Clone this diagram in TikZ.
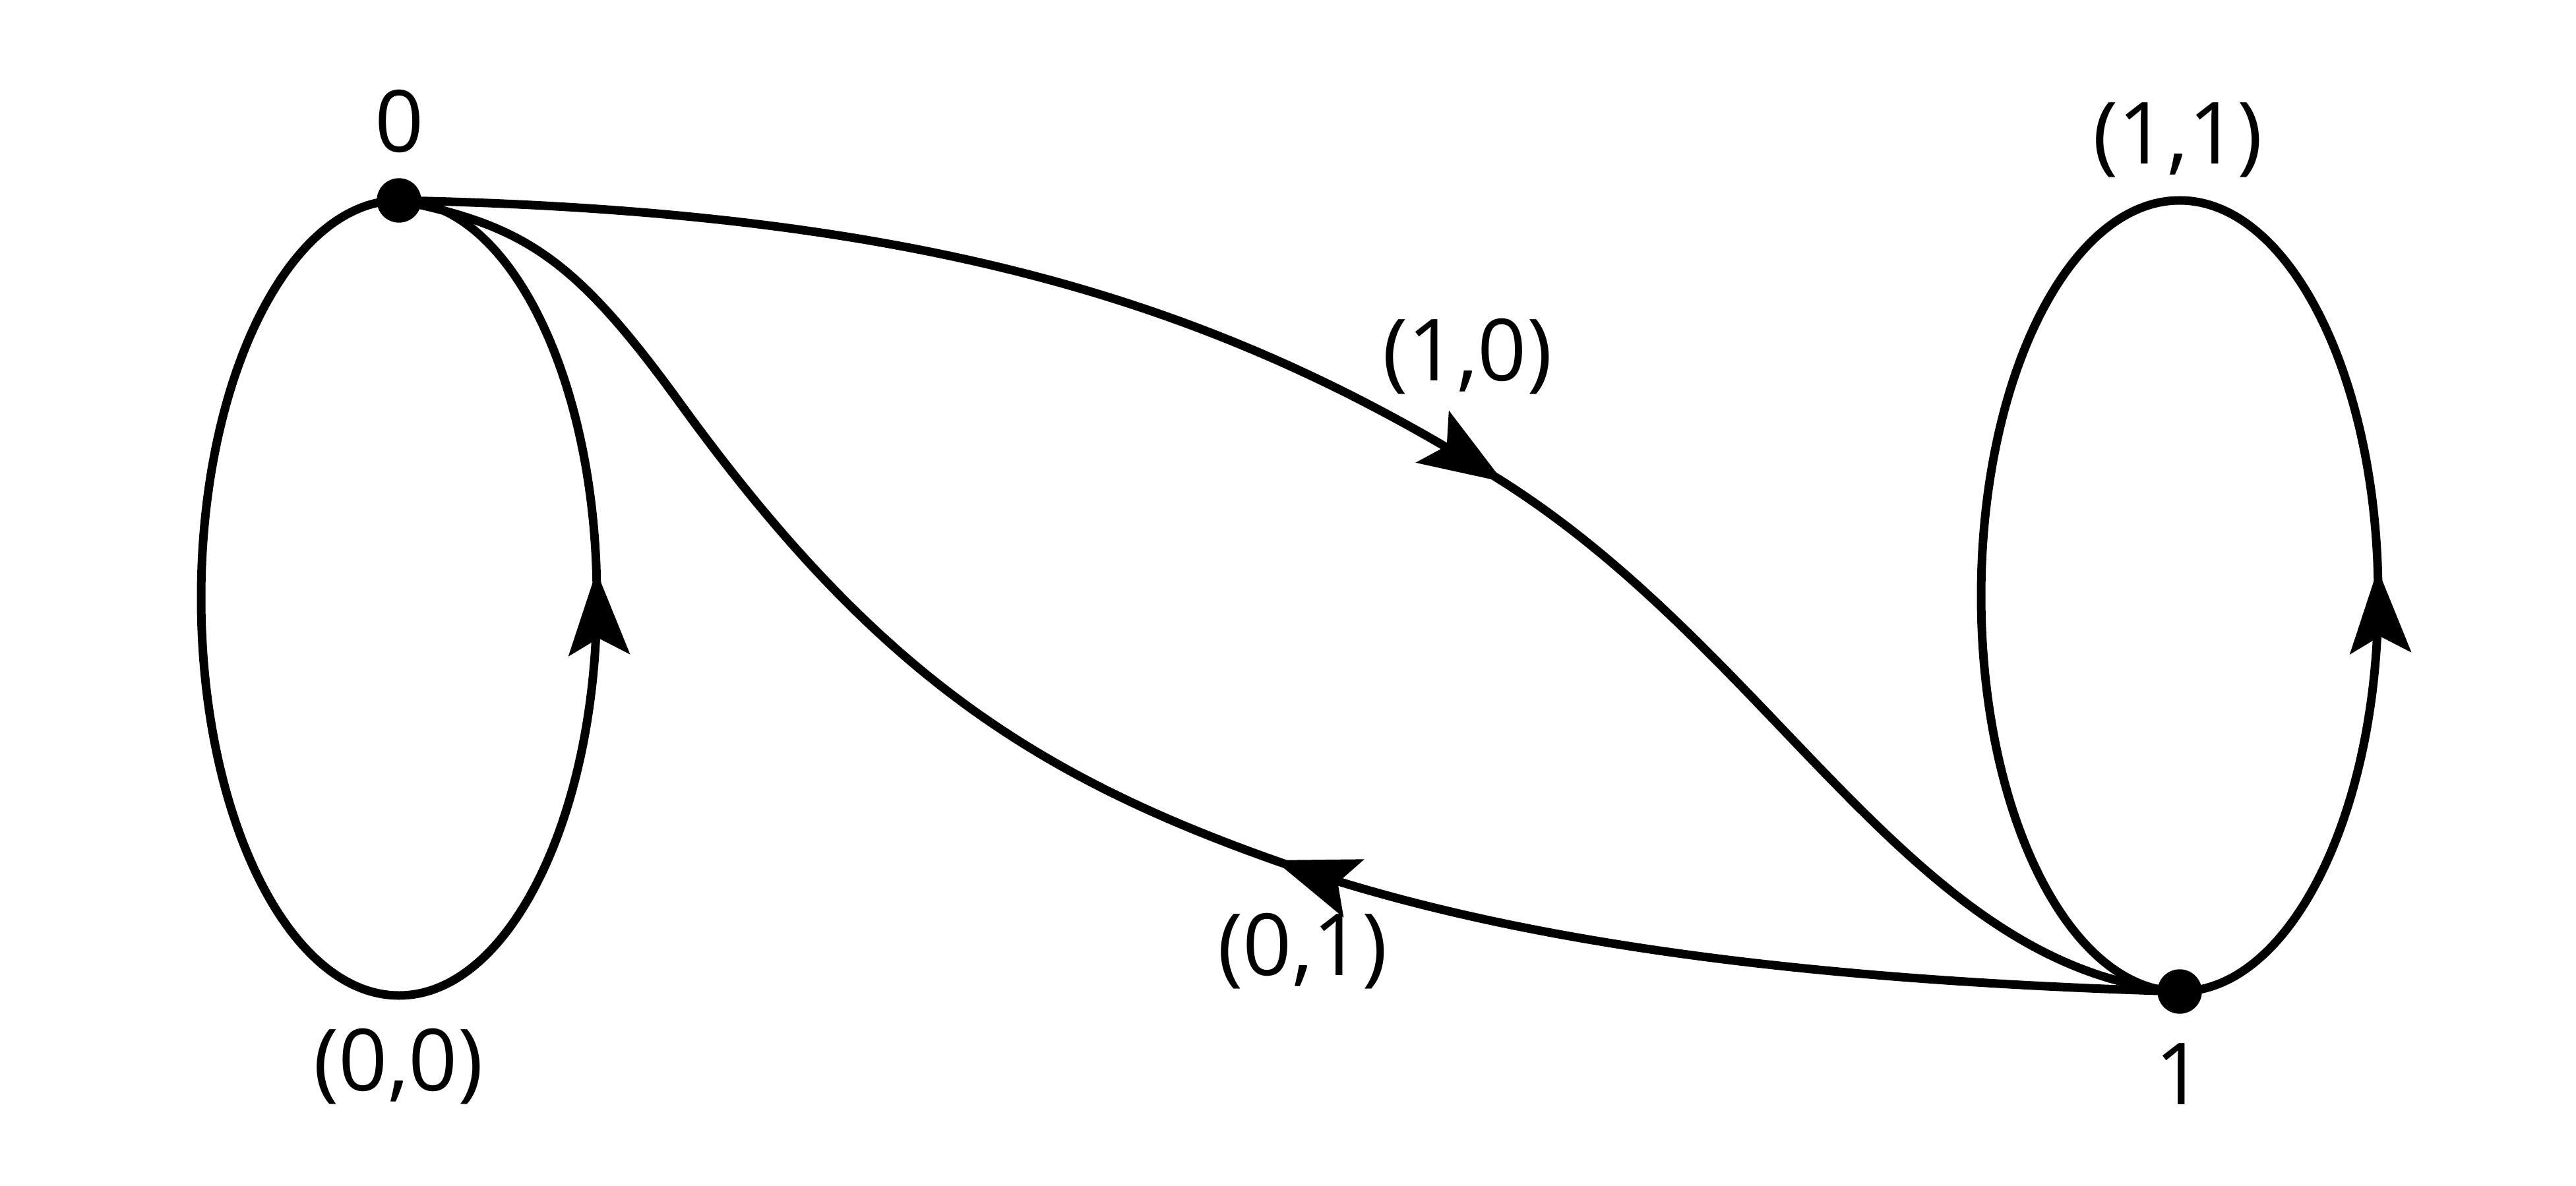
\documentclass[tikz,border=0pt]{standalone}
\usepackage{fontspec}
\setmainfont{Open Sans}
\usetikzlibrary{arrows.meta,decorations.markings}
\tikzset{
  edge/.style={line width=0.13cm},
  midarrow/.style={postaction={decorate},decoration={markings,
      mark=at position #1 with {\arrow{Stealth[length=1.27cm,width=0.92cm,inset=0.25cm]}}}},
  lbl/.style={inner sep=0pt, font=\fontsize{37}{44}\selectfont},
}
\begin{document}
\begin{tikzpicture}
    \useasboundingbox (0,0) rectangle (39.06,-17.99);
    \coordinate (n0) at (6.05,-3.04);
    \coordinate (n1) at (33.05,-15.04);
    \coordinate (m10) at (22.70,-7.25);
    \coordinate (m01) at (19.47,-13.10);
    \coordinate (q01) at (10.30,-6.10);

    % self loops
    \draw[edge, midarrow=0.764] (n0) arc[start angle=90, end angle=450, x radius=3, y radius=6.03];
    \draw[edge, midarrow=0.264] (n1) arc[start angle=-90, end angle=270, x radius=3.01, y radius=6];
    % edges between the two states
    \draw[edge, midarrow=0.573] (n0) .. controls (14.05,-3.20) and (18.46,-4.60) .. (m10)
        .. controls (26.94,-9.90) and (29.00,-14.70) .. (n1);
    \draw[edge, midarrow=0.45] (n1) .. controls (28.05,-14.89) and (23.25,-14.42) .. (m01)
        .. controls (15.63,-11.76) and (13.24,-10.16) .. (q01)
        .. controls (8.71,-3.91) and (7.95,-3.42) .. (n0);

    \foreach \p in {n0,n1} \filldraw (\p) circle (0.33);
    \node[lbl] (lab0) at (6.06,-1.84) {0};
    \node[lbl] (lab1) at (33.05,-16.29) {1};
    \node[lbl] (l00) at (6.04,-16.18) {(0,0)};
    \node[lbl] (l11) at (33.02,-2.12) {(1,1)};
    \node[lbl] (l10) at (22.25,-5.41) {(1,0)};
    \node[lbl] (l01) at (19.75,-14.43) {(0,1)};
\end{tikzpicture}
\end{document}
